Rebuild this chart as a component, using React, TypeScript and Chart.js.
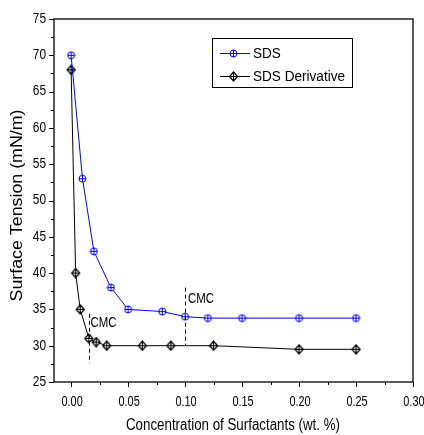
import React, { useEffect, useRef } from "react";
import { Chart, registerables } from "chart.js";
Chart.register(...registerables);

const sdsX = [0, 0.01, 0.02, 0.035, 0.05, 0.08, 0.1, 0.12, 0.15, 0.2, 0.25];
const sdsY = [70, 53, 43, 38, 35, 34.7, 34, 33.8, 33.8, 33.8, 33.8];
const derivX = [0, 0.004, 0.008, 0.0156, 0.022, 0.03125, 0.0625, 0.0875, 0.125, 0.2, 0.25];
const derivY = [68, 40, 35, 31, 30.5, 30, 30, 30, 30, 29.5, 29.5];
const seriesNames = ["SDS", "SDS Derivative"];
const xTicks = [0, 0.05, 0.1, 0.15, 0.2, 0.25, 0.3];
const yTicks = [25, 30, 35, 40, 45, 50, 55, 60, 65, 70, 75];
const xTitle = "Concentration of Surfactants (wt. %)";
const yTitle = "Surface Tension (mN/m)";
const cmcX = [0.0156, 0.1];
const cmcYTop = [34.4, 38];
const cmcYBottom = [27.6, 30];
const cmcLabelX = [0.0171, 0.1025];
const cmcLabelY = [33.1, 36.5];
const cmcText = "CMC";

const FONT = '"Liberation Sans", Arial, sans-serif';

function circleCross(color: string) {
  const c = document.createElement("canvas");
  c.width = 9;
  c.height = 9;
  const g = c.getContext("2d")!;
  g.strokeStyle = color;
  g.fillStyle = "#ffffff";
  g.lineWidth = 1;
  g.beginPath();
  g.arc(4.5, 4.5, 3.5, 0, Math.PI * 2);
  g.fill();
  g.stroke();
  g.beginPath();
  g.moveTo(1, 4.5);
  g.lineTo(8, 4.5);
  g.moveTo(4.5, 1);
  g.lineTo(4.5, 8);
  g.stroke();
  return c;
}

function diamondCross(color: string) {
  const c = document.createElement("canvas");
  c.width = 11;
  c.height = 11;
  const g = c.getContext("2d")!;
  g.strokeStyle = color;
  g.fillStyle = "#ffffff";
  g.lineWidth = 1.3;
  g.beginPath();
  g.moveTo(5.5, 1);
  g.lineTo(9.5, 5.5);
  g.lineTo(5.5, 10);
  g.lineTo(1.5, 5.5);
  g.closePath();
  g.fill();
  g.stroke();
  g.lineWidth = 1;
  g.beginPath();
  g.moveTo(1.5, 5.5);
  g.lineTo(9.5, 5.5);
  g.moveTo(5.5, 1);
  g.lineTo(5.5, 10);
  g.stroke();
  return c;
}

function drawText(
  ctx: CanvasRenderingContext2D,
  s: string,
  x: number,
  y: number,
  size: number,
  align: CanvasTextAlign,
  sx: number,
  rot = 0
) {
  ctx.save();
  ctx.translate(x, y);
  if (rot) ctx.rotate(rot);
  ctx.scale(sx, 1);
  ctx.font = size + "px " + FONT;
  ctx.textAlign = align;
  ctx.textBaseline = "middle";
  ctx.fillStyle = "#000";
  ctx.fillText(s, 0, 0);
  ctx.restore();
}

function fit(ctx: CanvasRenderingContext2D, s: string, size: number, target: number) {
  ctx.save();
  ctx.font = size + "px " + FONT;
  const w = ctx.measureText(s).width;
  ctx.restore();
  return target / w;
}

export default function App() {
  const ref = useRef<HTMLCanvasElement>(null);
  useEffect(() => {
    const blue = "#0000ff";
    const black = "#000000";
    const m1 = circleCross(blue);
    const m2 = diamondCross(black);

    const overlay = {
      id: "overlay",
      afterDraw(chart: any) {
        const ctx = chart.ctx as CanvasRenderingContext2D;
        const a = chart.chartArea;
        const xs = chart.scales.x;
        const ys = chart.scales.y;
        ctx.save();
        // frame
        ctx.strokeStyle = "#000";
        ctx.lineWidth = 1.3;
        ctx.strokeRect(a.left, a.top, a.right - a.left, a.bottom - a.top);
        // ticks
        ctx.lineWidth = 1;
        ctx.beginPath();
        for (let v = 25; v <= 75.001; v += 2.5) {
          const y = Math.round(ys.getPixelForValue(v)) + 0.5;
          const major = Math.abs(v / 5 - Math.round(v / 5)) < 1e-6;
          ctx.moveTo(a.left, y);
          ctx.lineTo(a.left - (major ? 5 : 3), y);
        }
        for (let i = 0; i <= 12; i++) {
          const v = i * 0.025;
          const x = Math.round(xs.getPixelForValue(v)) + 0.5;
          const major = i % 2 === 0;
          ctx.moveTo(x, a.bottom);
          ctx.lineTo(x, a.bottom + (major ? 5 : 3));
        }
        ctx.stroke();
        // tick labels
        yTicks.forEach((v) => drawText(ctx, String(v), a.left - 8, ys.getPixelForValue(v), 14, "right", 0.85));
        xTicks.forEach((v) => drawText(ctx, v.toFixed(2), xs.getPixelForValue(v) + 1, a.bottom + 20, 14, "center", 0.78));
        // axis titles
        drawText(ctx, xTitle, (a.left + a.right) / 2 - 0.5, 426, 16, "center", fit(ctx, xTitle, 16, 214));
        drawText(ctx, yTitle, 17.5, 205.5, 16, "center", fit(ctx, yTitle, 16, 192), -Math.PI / 2);
        // CMC dashed lines
        ctx.strokeStyle = "#000";
        ctx.setLineDash([4, 3]);
        ctx.beginPath();
        for (let i = 0; i < cmcX.length; i++) {
          const x = Math.round(xs.getPixelForValue(cmcX[i])) + 0.5;
          ctx.moveTo(x, ys.getPixelForValue(cmcYTop[i]));
          ctx.lineTo(x, ys.getPixelForValue(cmcYBottom[i]));
        }
        ctx.stroke();
        ctx.setLineDash([]);
        const cmcSx = fit(ctx, cmcText, 15, 26);
        for (let i = 0; i < cmcX.length; i++) {
          drawText(ctx, cmcText, xs.getPixelForValue(cmcLabelX[i]), ys.getPixelForValue(cmcLabelY[i]), 15, "left", cmcSx);
        }
        // legend
        ctx.lineWidth = 1;
        ctx.strokeStyle = "#000";
        ctx.strokeRect(212.5, 38.5, 140, 49);
        const rows = [
          { y: 53, color: blue, img: m1 },
          { y: 76, color: black, img: m2 },
        ];
        const legSx = fit(ctx, seriesNames[1], 15.5, 92);
        rows.forEach((r, i) => {
          ctx.strokeStyle = r.color;
          ctx.beginPath();
          ctx.moveTo(220, r.y + 0.5);
          ctx.lineTo(250, r.y + 0.5);
          ctx.stroke();
          ctx.drawImage(r.img, 233.5 - r.img.width / 2, r.y + 0.5 - r.img.height / 2);
          drawText(ctx, seriesNames[i], 253, r.y + 1, 15.5, "left", legSx);
        });
        ctx.restore();
      },
    };

    const chart = new Chart(ref.current!, {
      type: "line",
      data: {
        datasets: [
          {
            label: seriesNames[0],
            data: sdsX.map((x, i) => ({ x, y: sdsY[i] })),
            borderColor: blue,
            borderWidth: 1,
            pointStyle: m1 as any,
            pointRadius: 4,
          },
          {
            label: seriesNames[1],
            data: derivX.map((x, i) => ({ x, y: derivY[i] })),
            borderColor: black,
            borderWidth: 1,
            pointStyle: m2 as any,
            pointRadius: 5,
          },
        ],
      },
      options: {
        responsive: false,
        animation: false,
        layout: { padding: { top: 19, right: 11, left: 0, bottom: 0 } },
        plugins: { legend: { display: false }, tooltip: { enabled: false } },
        scales: {
          x: {
            type: "linear",
            min: -0.015,
            max: 0.3,
            afterBuildTicks: (s: any) => {
              s.ticks = xTicks.map((v) => ({ value: v }));
            },
            afterFit: (s: any) => {
              s.height = 53;
            },
            grid: { display: false, drawTicks: false, tickLength: 0 },
            border: { display: false },
            ticks: { display: false },
            title: { display: false, text: xTitle },
          },
          y: {
            type: "linear",
            min: 25,
            max: 75,
            afterBuildTicks: (s: any) => {
              s.ticks = yTicks.map((v) => ({ value: v }));
            },
            afterFit: (s: any) => {
              s.width = 54;
            },
            grid: { display: false, drawTicks: false, tickLength: 0 },
            border: { display: false },
            ticks: { display: false },
            title: { display: false, text: yTitle },
          },
        },
      },
      plugins: [overlay],
    });
    return () => chart.destroy();
  }, []);
  return (
    <canvas
      ref={ref}
      width={424}
      height={435}
      style={{ position: "fixed", left: 0, top: 0, width: 424, height: 435, background: "#fff" }}
    />
  );
}
